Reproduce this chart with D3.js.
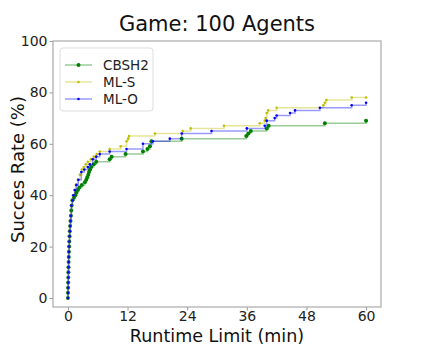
<!DOCTYPE html>
<html>
<head>
<meta charset="utf-8">
<script src="https://cdn.jsdelivr.net/npm/d3@7"></script>
<style>
  body { margin: 0; background: #fff; }
  text { font-family: "DejaVu Sans", sans-serif; }
</style>
</head>
<body>
<svg id="chart" width="423" height="346"></svg>
<script>
// success rate (%) against runtime limit (min), one pair of arrays per solver
var cbshTime = [0, 0.02, 0.04, 0.06, 0.08, 0.1, 0.12, 0.14, 0.17, 0.2, 0.24, 0.28, 0.33, 0.38, 0.45, 0.52, 0.6, 0.68, 0.75, 0.9,
                1.2, 1.5, 1.7, 2.0, 2.3, 2.8, 3.4, 3.7, 3.9, 4.1, 4.25, 4.45, 4.7, 5.2, 5.7, 8.4, 8.8, 11.6, 15.1, 16.0,
                16.5, 16.8, 22.9, 35.9, 36.3, 36.8, 40.0, 40.4, 51.7, 60];
var cbshRate = [0, 2, 4, 6, 8, 10, 12, 14, 16, 18, 20, 22, 24, 26, 28, 30, 32, 34, 36, 38,
                39, 40, 41, 42, 43, 44, 45, 46, 47, 48, 49, 50, 51, 52, 53, 54, 55, 56, 57, 58,
                59, 61, 62, 63, 64, 65, 66, 67, 68, 69];

var mlsTime = [0, 0.02, 0.04, 0.06, 0.08, 0.1, 0.12, 0.14, 0.17, 0.2, 0.24, 0.28, 0.33, 0.38, 0.45, 0.52, 0.6, 0.7, 0.85, 1.0,
               1.3, 1.6, 2.0, 2.4, 2.8, 3.2, 3.6, 4.0, 4.6, 5.2, 5.8, 6.4, 8.4, 10.6, 11.8, 12.1, 12.3, 17.5, 23.1, 24.7,
               31.4, 38.6, 39.6, 39.8, 40.0, 40.3, 42.0, 51.4, 51.7, 52.0, 57.1, 60];
var mlsRate = [0, 2, 4, 6, 8, 10, 12, 14, 16, 18, 20, 22, 24, 26, 28, 30, 32, 36, 38, 40,
               42, 44, 46, 48, 50, 51, 52, 53, 54, 55, 56, 57, 58, 59, 61, 62, 63, 64, 65, 66,
               67, 68, 69, 70, 72, 73, 74, 75, 76, 77, 78, 78];

var mloTime = [0, 0.02, 0.04, 0.06, 0.08, 0.1, 0.12, 0.14, 0.17, 0.2, 0.24, 0.28, 0.33, 0.38, 0.45, 0.52, 0.6, 0.7, 0.9, 1.1,
               1.4, 1.7, 2.1, 2.7, 3.3, 4.0, 4.4, 5.0, 5.7, 6.4, 8.4, 11.8, 15.1, 17.1, 20.5, 22.9, 28.9, 36.0, 39.6, 40.0,
               41.6, 42.0, 44.7, 45.7, 50.7, 57.1, 60];
var mloRate = [0, 2, 4, 6, 8, 10, 12, 14, 16, 18, 20, 22, 24, 26, 28, 30, 32, 36, 38, 40,
               42, 44, 46, 49, 50, 51, 52, 54, 55, 56, 57, 58, 60, 61, 62, 64, 65, 66, 67, 69,
               70, 71, 72, 73, 74, 75, 76];

var seriesNames = ["CBSH2", "ML-S", "ML-O"];
var xTicks = [0, 12, 24, 36, 48, 60];
var yTicks = [0, 20, 40, 60, 80, 100];

function zip(ts, rs) { return ts.map(function (t, i) { return [t, rs[i]]; }); }

var series = [
  { name: seriesNames[0], pts: zip(cbshTime, cbshRate), color: "#008000", r: 2 },
  { name: seriesNames[1], pts: zip(mlsTime, mlsRate), color: "#bfbf00", r: 1.3 },
  { name: seriesNames[2], pts: zip(mloTime, mloRate), color: "#0000ff", r: 1.3 }
];

var svg = d3.select("#chart"),
    margin = {top: 41, right: 42, bottom: 39, left: 53},
    width = +svg.attr("width") - margin.left - margin.right,
    height = +svg.attr("height") - margin.top - margin.bottom;

var x = d3.scaleLinear().domain([-3, 63]).range([0, width]),
    y = d3.scaleLinear().domain([-3.5, 100]).range([height, 0]);

var g = svg.append("g")
    .attr("transform", "translate(" + margin.left + "," + margin.top + ")");

g.append("g")
    .attr("class", "axis axis--x")
    .attr("transform", "translate(0," + height + ")")
    .call(d3.axisBottom(x).tickValues(xTicks).tickSize(3.5).tickPadding(1));

g.append("g")
    .attr("class", "axis axis--y")
    .call(d3.axisLeft(y).tickValues(yTicks).tickSize(3.5).tickPadding(2));

g.selectAll(".axis path").remove();
g.selectAll(".axis line").attr("stroke", "#999");
g.selectAll(".axis text").attr("font-size", 14).attr("fill", "#222")
    .attr("font-family", "DejaVu Sans, sans-serif");

g.append("rect")
    .attr("width", width).attr("height", height)
    .attr("fill", "none").attr("stroke", "#aaa").attr("stroke-width", 1.2);

var line = d3.line()
    .x(function (d) { return x(d[0]); })
    .y(function (d) { return y(d[1]); })
    .curve(d3.curveStepAfter);

series.forEach(function (s) {
  g.append("path")
      .datum(s.pts)
      .attr("fill", "none")
      .attr("stroke", s.color)
      .attr("stroke-opacity", 0.4)
      .attr("stroke-width", 1.5)
      .attr("d", line);
  g.selectAll(null)
      .data(s.pts)
      .enter().append("circle")
      .attr("cx", function (d) { return x(d[0]); })
      .attr("cy", function (d) { return y(d[1]); })
      .attr("r", s.r)
      .attr("fill", s.color);
});

// legend
var lg = g.append("g").attr("transform", "translate(7,7)");
lg.append("rect")
    .attr("width", 93).attr("height", 63).attr("rx", 3)
    .attr("fill", "#fff").attr("fill-opacity", 0.8)
    .attr("stroke", "#ddd");
series.forEach(function (s, i) {
  var yy = 17 + i * 17;
  lg.append("line").attr("x1", 5).attr("x2", 32).attr("y1", yy).attr("y2", yy)
      .attr("stroke", s.color).attr("stroke-opacity", 0.4).attr("stroke-width", 1.5);
  lg.append("circle").attr("cx", 18.5).attr("cy", yy).attr("r", s.r).attr("fill", s.color);
  lg.append("text").attr("x", 43).attr("y", yy + 5)
      .attr("font-size", 13.5).attr("fill", "#222").text(s.name);
});

svg.append("text")
    .attr("x", margin.left + width / 2).attr("y", 31)
    .attr("text-anchor", "middle").attr("font-size", 21).attr("fill", "#111")
    .text("Game: 100 Agents");

svg.append("text")
    .attr("x", margin.left + width / 2).attr("y", 342)
    .attr("text-anchor", "middle").attr("font-size", 17.5).attr("fill", "#111")
    .text("Runtime Limit (min)");

svg.append("text")
    .attr("transform", "translate(24," + (margin.top + y(50)) + ") rotate(-90)")
    .attr("text-anchor", "middle").attr("font-size", 18).attr("fill", "#111")
    .text("Succes Rate (%)");
</script>
</body>
</html>
